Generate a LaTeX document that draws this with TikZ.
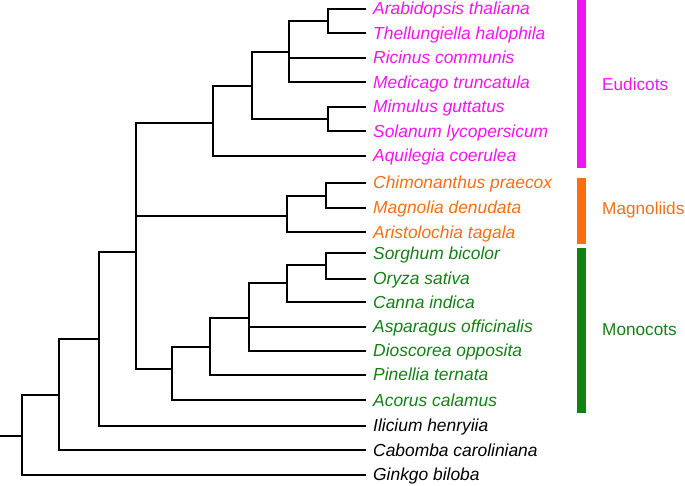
\documentclass[tikz,border=0pt]{standalone}
\usepackage{fontspec}
\setmainfont{Liberation Sans}
\definecolor{eud}{RGB}{245,20,240}
\definecolor{mag}{RGB}{248,110,20}
\definecolor{mon}{RGB}{20,128,20}
\begin{document}
\begin{tikzpicture}[x=1pt,y=-1pt,
  branch/.style={line width=1.9pt,line cap=rect,black},
  leaf/.style={anchor=base west,inner sep=0pt,font=\fontsize{17.4}{20}\selectfont\itshape},
  grp/.style={anchor=west,inner sep=0pt,font=\fontsize{17.2}{20}\selectfont},
  bar/.style={line width=9pt}]
\useasboundingbox (0,0) rectangle (685,485);
% leaf endpoints and labels
\foreach \n/\y/\t/\c in {
  L1/9/Arabidopsis thaliana/eud,
  L2/33.3/Thellungiella halophila/eud,
  L3/58/Ricinus communis/eud,
  L4/82.3/Medicago truncatula/eud,
  L5/106.7/Mimulus guttatus/eud,
  L6/131.3/Solanum lycopersicum/eud,
  L7/155.7/Aquilegia coerulea/eud,
  L8/183/Chimonanthus praecox/mag,
  L9/208/Magnolia denudata/mag,
  L10/232.3/Aristolochia tagala/mag,
  L11/253.3/Sorghum bicolor/mon,
  L12/279/Oryza sativa/mon,
  L13/302.3/Canna indica/mon,
  L14/327/Asparagus officinalis/mon,
  L15/351/Dioscorea opposita/mon,
  L16/374.7/Pinellia ternata/mon,
  L17/400.3/Acorus calamus/mon,
  L18/425.7/Ilicium henryiia/black,
  L19/450.3/Cabomba caroliniana/black,
  L20/475/Ginkgo biloba/black}{
  \coordinate (\n) at (365,\y);
  \node[leaf,text=\c] (t\n) at (373,\y+5.8) {\t};
}
% internal nodes
\coordinate (n1) at (327.7,21);
\coordinate (n2) at (289.3,52);
\coordinate (n3) at (327.7,119);
\coordinate (n4) at (251.7,85.7);
\coordinate (n5) at (212.7,123.3);
\coordinate (n6) at (325.7,195.7);
\coordinate (n7) at (287.3,215.7);
\coordinate (m1) at (325.7,265);
\coordinate (m2) at (287.3,283.3);
\coordinate (m3) at (249.3,317.7);
\coordinate (m4) at (210.3,347.3);
\coordinate (m5) at (172.3,369.3);
\coordinate (a1) at (136,252.3);
\coordinate (a2) at (98.7,339);
\coordinate (a3) at (59.3,395);
\coordinate (r) at (21.7,435.7);
\coordinate (s) at (0,435.7);
% connectors
\foreach \p/\c in {n1/L1,n1/L2,n2/n1,n2/L3,n2/L4,n3/L5,n3/L6,n4/n2,n4/n3,
  n5/n4,n5/L7,n6/L8,n6/L9,n7/n6,n7/L10,
  m1/L11,m1/L12,m2/m1,m2/L13,m3/m2,m3/L14,m3/L15,m4/m3,m4/L16,m5/m4,m5/L17,
  a1/n5,a1/n7,a1/m5,a2/a1,a2/L18,a3/a2,a3/L19,r/a3,r/L20}{
  \draw[branch] (\p) |- (\c);
}
\draw[branch] (s) -- (r);
% group bars
\coordinate (e1) at (581.2,0);
\coordinate (e2) at (581.2,167.7);
\coordinate (g1) at (581.2,177.7);
\coordinate (g2) at (581.2,244);
\coordinate (k1) at (581.2,248.3);
\coordinate (k2) at (581.2,412.7);
\draw[bar,eud] (e1) -- (e2);
\draw[bar,mag] (g1) -- (g2);
\draw[bar,mon] (k1) -- (k2);
\node[grp,text=eud] (ge) at (602,84) {Eudicots};
\node[grp,text=mag] (gm) at (602,210) {Magnoliids};
\node[grp,text=mon] (gk) at (602,330) {Monocots};
\end{tikzpicture}
\end{document}
